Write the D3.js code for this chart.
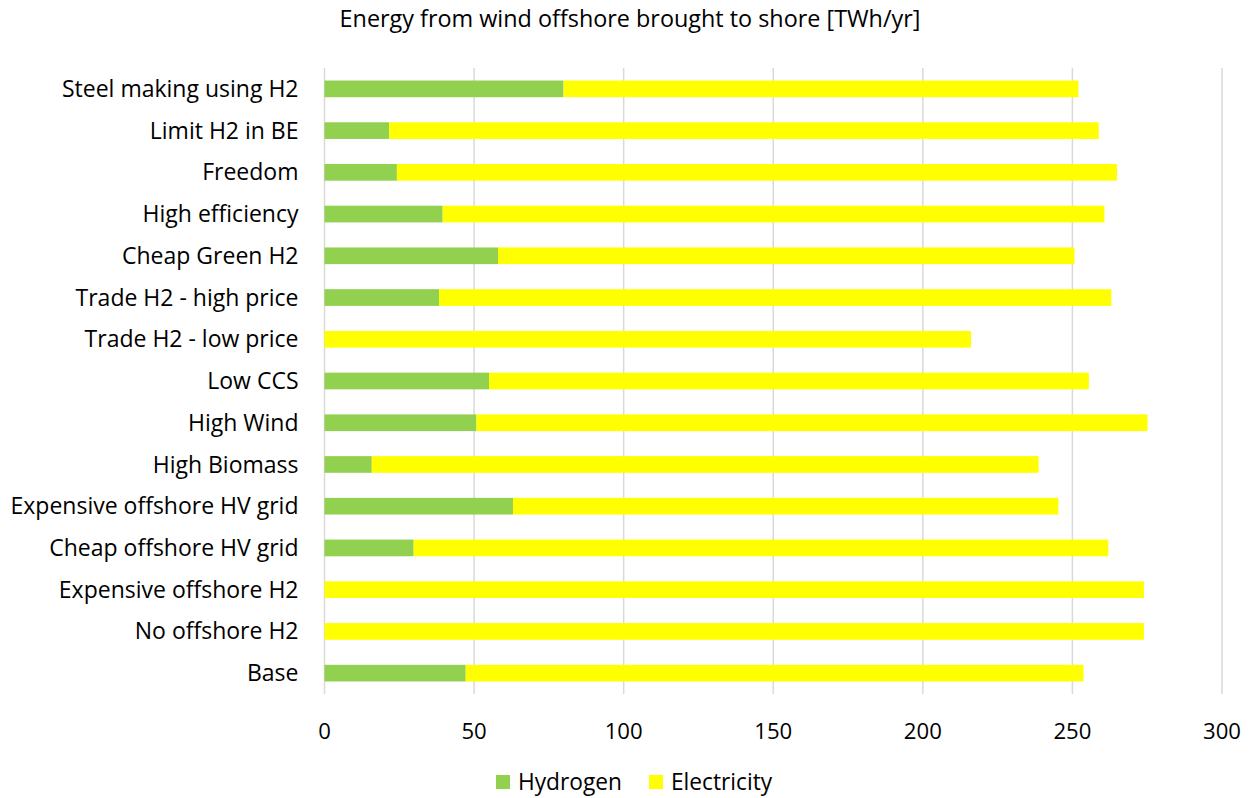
<!DOCTYPE html>
<html>
<head>
    <meta charset="utf-8">
    <title>Energy from wind offshore brought to shore</title>
    <script src="https://cdn.jsdelivr.net/npm/d3@7"></script>
    <style>
        body { margin: 0; background: #fff; }
        text { font-family: "Open Sans", Lato, sans-serif; fill: #000; }
    </style>
</head>
<body>
    <svg width="1255" height="798" id="mainsvg"></svg>
    <script>
        // scenarios, top to bottom
        const scenarios = [
            'Steel making using H2', 'Limit H2 in BE', 'Freedom', 'High efficiency',
            'Cheap Green H2', 'Trade H2 - high price', 'Trade H2 - low price', 'Low CCS',
            'High Wind', 'High Biomass', 'Expensive offshore HV grid', 'Cheap offshore HV grid',
            'Expensive offshore H2', 'No offshore H2', 'Base'
        ];
        const hydrogen = [79.9, 21.6, 24.2, 39.5, 58.0, 38.3, 0, 55.0, 50.8, 15.8, 63.0, 29.8, 0, 0, 47.2];
        const electricity = [172.1, 237.2, 240.7, 221.2, 192.7, 224.7, 216.1, 200.5, 224.3, 222.9, 182.3, 232.2, 273.9, 273.9, 206.5];
        const seriesNames = ['Hydrogen', 'Electricity'];
        const seriesColors = ['#92d050', '#ffff00'];
        const xTicks = [0, 50, 100, 150, 200, 250, 300];

        const svg = d3.select('svg');
        const margin = { top: 68, left: 324.5, right: 33, bottom: 104 };
        const width = +svg.attr('width'), height = +svg.attr('height');

        const x = d3.scaleLinear().domain([0, 300])
            .range([margin.left, width - margin.right]);
        const y = d3.scaleBand().domain(scenarios)
            .range([margin.top, height - margin.bottom]).paddingInner(0.6).paddingOuter(0.3);

        // pick a font size so that one text node gets the wanted width
        function fitSize(node, want, base) {
            const w = node.getComputedTextLength();
            return w > 0 ? base * want / w : base;
        }

        // title
        const title = svg.append('text')
            .attr('x', 630).attr('y', 27)
            .attr('text-anchor', 'middle')
            .style('font-size', '20px')
            .text('Energy from wind offshore brought to shore [TWh/yr]');
        title.style('font-size', fitSize(title.node(), 581, 20) + 'px');

        // gridlines
        svg.append('g').selectAll('line').data(xTicks).join('line')
            .attr('x1', d => x(d)).attr('x2', d => x(d))
            .attr('y1', margin.top).attr('y2', height - margin.bottom)
            .attr('stroke', '#d9d9d9').attr('stroke-width', 1.5);

        // stacked bars
        const rows = scenarios.map((s, i) => ({ name: s, Hydrogen: hydrogen[i], Electricity: electricity[i] }));
        const stack = d3.stack().keys(seriesNames)(rows);

        svg.append('g').selectAll('g').data(stack).join('g')
            .attr('fill', (d, i) => seriesColors[i])
            .selectAll('rect').data(d => d.filter(v => v[1] - v[0] > 0)).join('rect')
            .attr('x', d => x(d[0]))
            .attr('width', d => x(d[1]) - x(d[0]))
            .attr('y', d => y(d.data.name))
            .attr('height', y.bandwidth());

        // category labels
        const labels = svg.append('g').selectAll('text').data(scenarios).join('text')
            .attr('x', margin.left - 26)
            .attr('y', d => y(d) + y.bandwidth() / 2)
            .attr('dy', '0.35em')
            .attr('text-anchor', 'end')
            .style('font-size', '20px')
            .text(d => d);
        const labelSize = fitSize(labels.filter(d => d === 'Expensive offshore HV grid').node(), 288, 20);
        labels.style('font-size', labelSize + 'px');

        // x tick labels
        const ticks = svg.append('g').selectAll('text').data(xTicks).join('text')
            .attr('x', d => x(d))
            .attr('y', 739)
            .attr('text-anchor', 'middle')
            .style('font-size', '20px')
            .text(d => d);
        ticks.style('font-size', fitSize(ticks.filter(d => d === 100).node(), 38, 20) + 'px');

        // legend
        const legendX = [496, 649];
        const legend = svg.append('g').selectAll('g').data(seriesNames).join('g')
            .attr('transform', (d, i) => `translate(${legendX[i]}, 775)`);
        legend.append('rect')
            .attr('width', 14).attr('height', 14)
            .attr('fill', (d, i) => seriesColors[i]);
        const legendText = legend.append('text')
            .attr('x', 22).attr('y', 7).attr('dy', '0.35em')
            .style('font-size', '20px')
            .text(d => d);
        legendText.style('font-size', fitSize(legendText.filter(d => d === 'Hydrogen').node(), 104, 20) + 'px');
    </script>
</body>
</html>
